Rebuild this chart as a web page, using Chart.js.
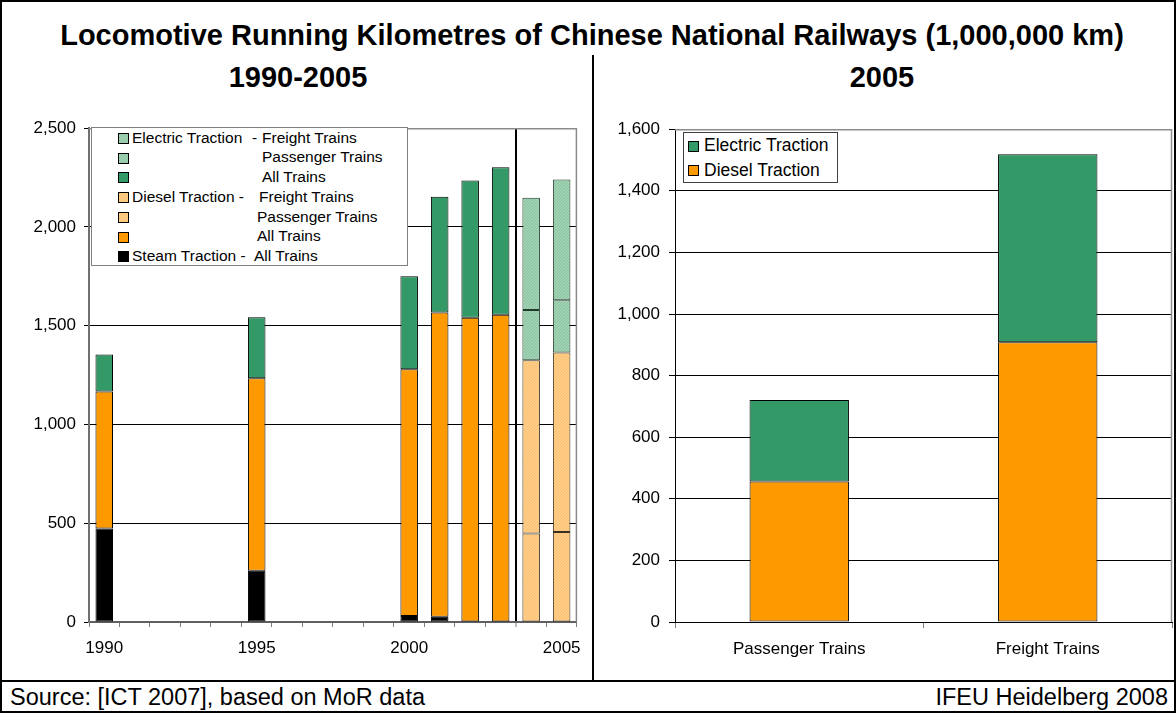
<!DOCTYPE html>
<html>
<head>
<meta charset="utf-8">
<script src="https://cdn.jsdelivr.net/npm/chart.js@4.4.1/dist/chart.umd.min.js"></script>
<style>
  html, body { margin: 0; padding: 0; background: #fff; }
  body { width: 1176px; height: 713px; position: relative; overflow: hidden;
         font-family: "Liberation Sans", Arial, sans-serif; color: #000; }
  #frame { position: absolute; left: 0; top: 0; width: 1172px; height: 709px; border: 2px solid #000; }
  #hsep { position: absolute; left: 0; top: 680px; width: 1176px; height: 2px; background: #000; }
  #vsep { position: absolute; left: 592px; top: 55px; width: 2px; height: 626px; background: #000; }
  .title { position: absolute; font-weight: bold; font-size: 29px; white-space: nowrap; line-height: 34px; }
  .foot { position: absolute; font-size: 23.5px; white-space: nowrap; line-height: 28px; top: 683px; }
  canvas { position: absolute; }
  .legend { position: absolute; background: #fff; border: 1px solid #808080; box-sizing: border-box; }
  .item { position: absolute; white-space: nowrap; }
  .sw { position: absolute; width: 11px; height: 11px; box-sizing: border-box; border: 1px solid #000; }
</style>
</head>
<body>
<div id="frame"></div>
<div id="hsep"></div>
<div id="vsep"></div>

<div class="title" style="left:4px;width:1176px;text-align:center;top:18px;">Locomotive Running Kilometres of Chinese National Railways (1,000,000 km)</div>
<div class="title" style="left:148px;width:300px;text-align:center;top:60px;">1990-2005</div>
<div class="title" style="left:732px;width:300px;text-align:center;top:60px;">2005</div>

<canvas id="left" width="592" height="560" style="left:0;top:110px;"></canvas>
<canvas id="right" width="580" height="560" style="left:594px;top:110px;"></canvas>

<div class="legend" id="legLeft" style="left:91px;top:127px;width:317px;height:139px;"></div>
<div class="legend" id="legRight" style="left:683px;top:132px;width:155px;height:51px;border-color:#404040;"></div>

<div class="foot" style="left:10px;">Source: [ICT 2007], based on MoR data</div>
<div class="foot" style="right:8px;">IFEU Heidelberg 2008</div>

<script>
// ---- data (1,000,000 km) ----
const years = ['1990','1991','1992','1993','1994','1995','1996','1997','1998','1999',
               '2000','2001','2002','2003','2004','2005'];
const labeledYears = ['1990', '1995', '2000', '2005'];

const steamAll          = [473, null, null, null, null, 259, null, null, null, null, 30, 27, null, null, null, null];
const dieselAll         = [694, null, null, null, null, 975, null, null, null, null, 1250, 1540, 1540, 1555, null, null];
const electricAll       = [187, null, null, null, null, 309, null, null, null, null, 470, 586, 695, 747, null, null];
const dieselPassenger   = [null, null, null, null, null, null, null, null, null, null, null, null, null, null, 448, 456];
const dieselFreight     = [null, null, null, null, null, null, null, null, null, null, null, null, null, null, 877, 908];
const electricPassenger = [null, null, null, null, null, null, null, null, null, null, null, null, null, null, 255, 265];
const electricFreight   = [null, null, null, null, null, null, null, null, null, null, null, null, null, null, 568, 611];

const trainTypes = ['Passenger Trains', 'Freight Trains'];
const diesel2005   = [456, 908];
const electric2005 = [265, 611];

const leftTicks  = [0, 500, 1000, 1500, 2000, 2500];
const rightTicks = [0, 200, 400, 600, 800, 1000, 1200, 1400, 1600];

// ---- colours ----
const GREEN = '#339966';
const ORANGE = '#FF9900';
const BLACK = '#000000';

// fine dotted fill used for the split 2004/2005 segments
function dotted(base, dot) {
  const c = document.createElement('canvas');
  c.width = 3; c.height = 3;
  const g = c.getContext('2d');
  g.fillStyle = base; g.fillRect(0, 0, 3, 3);
  g.fillStyle = dot;
  g.fillRect(0, 0, 1, 1); g.fillRect(1, 2, 1, 1); g.fillRect(2, 1, 1, 1);
  return { pattern: g.createPattern(c, 'repeat'), url: c.toDataURL() };
}
const lightGreen = dotted('#a0d2b3', '#88c29f');
const lightOrange = dotted('#ffce88', '#f7bd6c');

const FONT = { family: '"Liberation Sans", Arial, sans-serif', size: 17 };
const fmt = v => Number(v).toLocaleString('en-US');

// gray frame on top and right of the plot area
const plotBox = {
  id: 'plotBox',
  beforeDatasetsDraw(chart) {
    const a = chart.chartArea, g = chart.ctx;
    g.save();
    g.strokeStyle = '#8c8c8c';
    g.lineWidth = 1.5;
    g.beginPath();
    g.moveTo(a.left, a.top + 0.5);
    g.lineTo(a.right - 0.5, a.top + 0.5);
    g.lineTo(a.right - 0.5, a.bottom);
    g.stroke();
    g.restore();
  }
};

const barDefaults = { borderColor: BLACK, borderWidth: 1, borderSkipped: false, categoryPercentage: 1 };

// ---- left chart: 1990-2005 ----
new Chart(document.getElementById('left'), {
  type: 'bar',
  data: {
    labels: years,
    datasets: [
      { label: 'Steam Traction - All Trains', data: steamAll, backgroundColor: BLACK },
      { label: 'Diesel Traction - All Trains', data: dieselAll, backgroundColor: ORANGE },
      { label: 'Diesel Traction - Passenger Trains', data: dieselPassenger, backgroundColor: lightOrange.pattern, borderColor: '#3a3020' },
      { label: 'Diesel Traction - Freight Trains', data: dieselFreight, backgroundColor: lightOrange.pattern, borderColor: '#3a3020' },
      { label: 'Electric Traction - All Trains', data: electricAll, backgroundColor: GREEN },
      { label: 'Electric Traction - Passenger Trains', data: electricPassenger, backgroundColor: lightGreen.pattern, borderColor: '#223a2c' },
      { label: 'Electric Traction - Freight Trains', data: electricFreight, backgroundColor: lightGreen.pattern, borderColor: '#223a2c' }
    ].map(d => Object.assign({}, barDefaults, { barPercentage: 0.575 }, d))
  },
  options: {
    responsive: false,
    animation: false,
    layout: { padding: { top: 17, right: 14, left: 0, bottom: 0 } },
    plugins: { legend: { display: false }, tooltip: { enabled: false } },
    scales: {
      x: {
        stacked: true,
        afterFit(s) { s.height = 48; },
        grid: {
          offset: true,
          drawOnChartArea: true,
          color: c => (c.index === 14 ? '#000' : 'rgba(0,0,0,0)'),
          lineWidth: c => (c.index === 14 ? 2 : 1),
          tickColor: '#808080',
          tickWidth: 1,
          tickLength: 5
        },
        border: { color: '#606060', width: 2 },
        ticks: {
          autoSkip: false, maxRotation: 0, minRotation: 0, padding: 11,
          color: '#000', font: FONT,
          callback(v) { const l = this.getLabelForValue(v); return labeledYears.includes(l) ? l : ''; }
        }
      },
      y: {
        stacked: true, min: 0, max: 2500,
        afterFit(s) { s.width = 89; },
        afterBuildTicks(s) { s.ticks = leftTicks.map(v => ({ value: v })); },
        grid: {
          color: c => (c.tick && c.tick.value === 2500 ? 'rgba(0,0,0,0)' : '#000'),
          tickColor: '#000',
          tickLength: 5
        },
        border: { color: '#707070', width: 2 },
        ticks: { padding: 8, color: '#000', font: FONT, callback: v => fmt(v) }
      }
    }
  },
  plugins: [plotBox]
});

// ---- right chart: 2005 ----
new Chart(document.getElementById('right'), {
  type: 'bar',
  data: {
    labels: trainTypes,
    datasets: [
      { label: 'Diesel Traction', data: diesel2005, backgroundColor: ORANGE },
      { label: 'Electric Traction', data: electric2005, backgroundColor: GREEN }
    ].map(d => Object.assign({}, barDefaults, { barPercentage: 0.4 }, d))
  },
  options: {
    responsive: false,
    animation: false,
    layout: { padding: { top: 17, right: 2, left: 0, bottom: 0 } },
    plugins: { legend: { display: false }, tooltip: { enabled: false } },
    scales: {
      x: {
        stacked: true,
        afterFit(s) { s.height = 48; },
        grid: { offset: true, drawOnChartArea: false, tickColor: '#808080', tickLength: 6 },
        border: { color: '#000', width: 1 },
        ticks: { maxRotation: 0, padding: 11, color: '#000', font: FONT }
      },
      y: {
        stacked: true, min: 0, max: 1600,
        afterFit(s) { s.width = 81; },
        afterBuildTicks(s) { s.ticks = rightTicks.map(v => ({ value: v })); },
        grid: {
          color: c => (c.tick && c.tick.value === 1600 ? 'rgba(0,0,0,0)' : '#000'),
          tickColor: '#000',
          tickLength: 6
        },
        border: { color: '#000', width: 1 },
        ticks: { padding: 9, color: '#000', font: FONT, callback: v => fmt(v) }
      }
    }
  },
  plugins: [plotBox]
});

// ---- legends ----
function addItem(box, top, swLeft, fill, pieces, size) {
  const sw = document.createElement('div');
  sw.className = 'sw';
  sw.style.left = swLeft + 'px';
  sw.style.top = (top - 5) + 'px';
  if (fill.url) { sw.style.backgroundImage = 'url(' + fill.url + ')'; }
  else { sw.style.background = fill; }
  box.appendChild(sw);
  pieces.forEach(([x, text]) => {
    const t = document.createElement('div');
    t.className = 'item';
    t.style.left = x + 'px';
    t.style.top = (top - size * 0.6) + 'px';
    t.style.fontSize = size + 'px';
    t.style.lineHeight = (size * 1.2) + 'px';
    t.textContent = text;
    box.appendChild(t);
  });
}

const legL = document.getElementById('legLeft');
// coordinates relative to the legend box (left 91, top 127, inside border)
const rows = [
  [lightGreen,  [[40, 'Electric Traction'], [160, '-'], [170, 'Freight Trains']]],
  [lightGreen,  [[170, 'Passenger Trains']]],
  [GREEN,       [[170, 'All Trains']]],
  [lightOrange, [[40, 'Diesel Traction -'], [167, 'Freight Trains']]],
  [lightOrange, [[165, 'Passenger Trains']]],
  [ORANGE,      [[165, 'All Trains']]],
  [BLACK,       [[40, 'Steam Traction -'], [162, 'All Trains']]]
];
rows.forEach((r, i) => addItem(legL, 10 + i * 19.7, 26, r[0], r[1], 15.5));

const legR = document.getElementById('legRight');
addItem(legR, 12.5, 4, GREEN, [[20, 'Electric Traction']], 17.5);
addItem(legR, 37, 4, ORANGE, [[20, 'Diesel Traction']], 17.5);
</script>
</body>
</html>
